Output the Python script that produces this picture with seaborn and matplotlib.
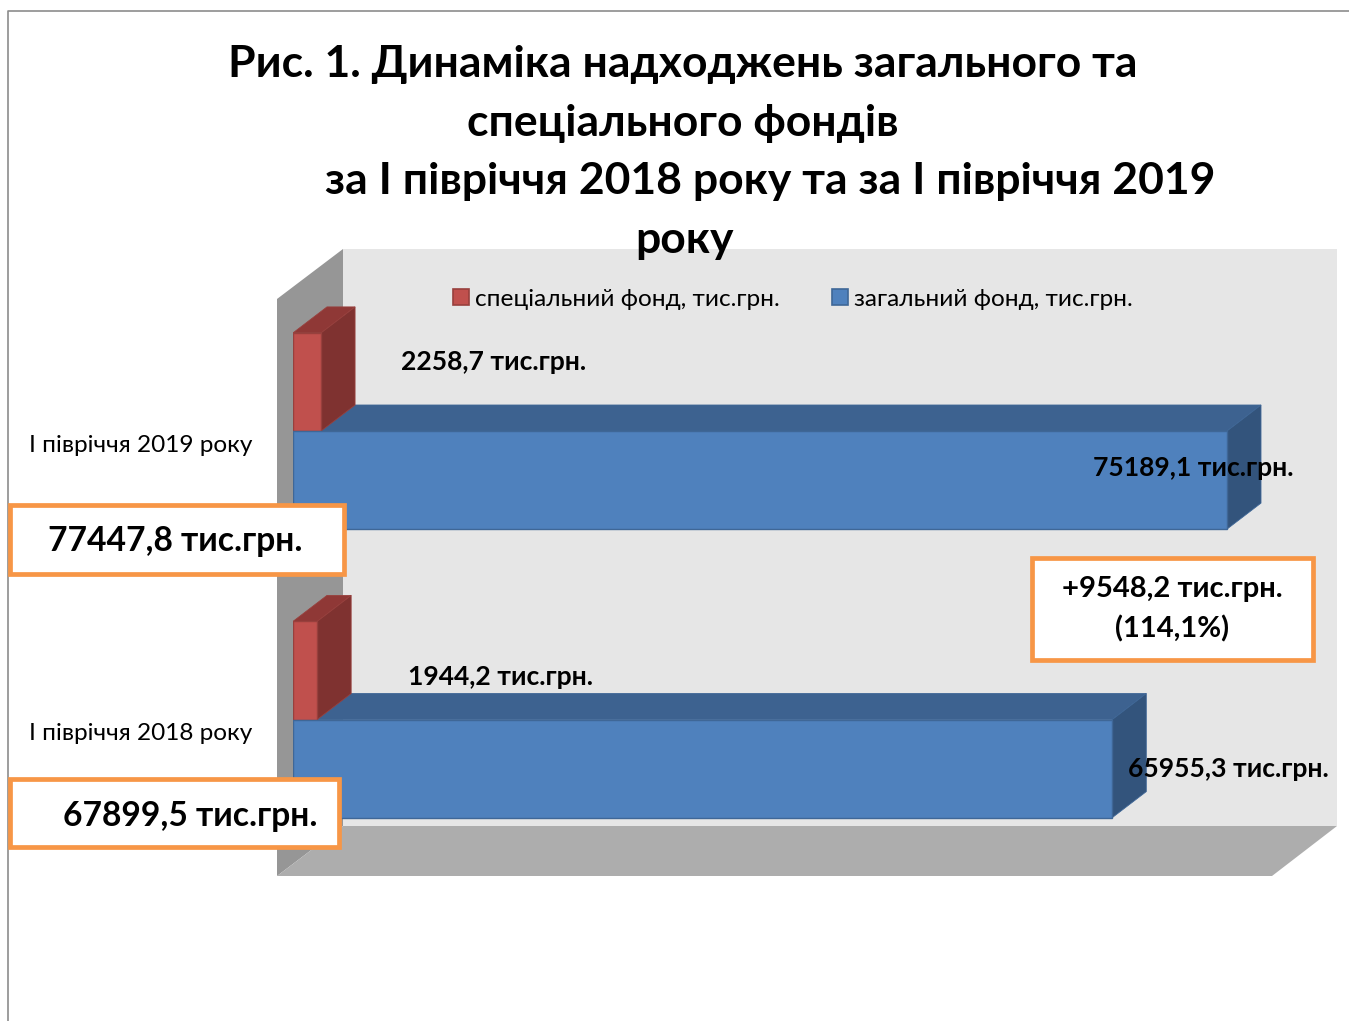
import matplotlib
matplotlib.use("Agg")
import matplotlib.pyplot as plt
from matplotlib.patches import Polygon, Rectangle
from matplotlib.transforms import ScaledTranslation
import pandas as pd
import seaborn as sns

periods = ["I півріччя 2019 року", "I півріччя 2018 року"]
special_fund = [2258.7, 1944.2]
general_fund = [75189.1, 65955.3]
series_names = ["спеціальний фонд, тис.грн.", "загальний фонд, тис.грн."]
totals = ["77447,8 тис.грн.", "67899,5 тис.грн."]
diff_text = "+9548,2 тис.грн.\n(114,1%)"
title_lines = [
    "Рис. 1. Динаміка надходжень загального та",
    "спеціального фондів",
    "за I півріччя 2018 року та за I півріччя 2019",
    "року",
]

W, H = 1349, 1021
FONT = ["Lato", "Open Sans", "DejaVu Sans"]

sns.set_theme(style="white")
plt.rcParams["font.family"] = FONT


def fx(x):
    return x / W


def fy(y):
    return 1 - y / H


def poly(pts, color, z=-1, edge="none"):
    # shape given in image pixels, used for the chart walls
    fig.add_artist(Polygon([(fx(x), fy(y)) for x, y in pts], closed=True, facecolor=color,
                           edgecolor=edge, lw=0, transform=fig.transFigure, zorder=z))


def box(x0, y0, x1, y1):
    fig.add_artist(Rectangle((fx(x0), fy(y1)), (x1 - x0) / W, (y1 - y0) / H, facecolor="white",
                             edgecolor="#f79646", lw=3.4, transform=fig.transFigure, zorder=5))


def label(x, y, s, size, weight="bold", ha="left", z=6, spacing=1.3):
    fig.text(fx(x), fy(y), s, fontsize=size, fontweight=weight, ha=ha, va="center",
             color="black", zorder=z, linespacing=spacing)


fig = plt.figure(figsize=(W / 100, H / 100), dpi=100)

# frame of the picture
fig.add_artist(plt.Line2D([fx(8), fx(8), 1], [0, fy(11), fy(11)], color="#8c8c8c", lw=1.2,
                          transform=fig.transFigure, zorder=2))

# walls and floor
poly([(343, 249), (1337, 249), (1337, 826), (343, 826)], "#e6e6e6")
poly([(277, 299), (343, 249), (343, 826), (277, 876)], "#969696")
poly([(277, 876), (343, 826), (1337, 826), (1272, 876)], "#adadad")

# axes run from zero on the x scale, y limits chosen so the bars land on the wall
ax = fig.add_axes([fx(293), fy(876), fx(W - 293), (876 - 249) / H])
ax.patch.set_visible(False)

df = pd.DataFrame({
    "period": periods * 2,
    "fund": [series_names[0]] * 2 + [series_names[1]] * 2,
    "value": special_fund + general_fund,
})
sns.barplot(data=df, y="period", x="value", hue="fund", hue_order=series_names, orient="h",
            palette=["#c0504d", "#4f81bd"], saturation=1, width=0.68, errorbar=None, ax=ax,
            linewidth=1)

px_per_value = 934 / general_fund[0]
px_per_cat = 288.5
ax.set_xlim(0, (W - 293) / px_per_value)
ax.set_ylim((876 - 431) / px_per_cat, (249 - 431) / px_per_cat)

depth_x = 34 / px_per_value
depth_y = -26 / px_per_cat
shades = [("#8f3836", "#7f3230", "#98403d", 0.9), ("#3d6290", "#33547c", "#3f6797", 0.8)]
for cont, (top_c, side_c, edge_c, z) in zip(ax.containers, shades):
    for bar in cont:
        bar.set_edgecolor(edge_c)
        x1 = bar.get_width()
        y0 = bar.get_y()
        y1 = y0 + bar.get_height()
        ax.add_patch(Polygon([(0, y0), (depth_x, y0 + depth_y), (x1 + depth_x, y0 + depth_y), (x1, y0)],
                             facecolor=top_c, edgecolor=edge_c, lw=0.6, zorder=z))
        ax.add_patch(Polygon([(x1, y0), (x1 + depth_x, y0 + depth_y), (x1 + depth_x, y1 + depth_y), (x1, y1)],
                             facecolor=side_c, edgecolor=edge_c, lw=0.6, zorder=z))

sns.despine(ax=ax, left=True, bottom=True)
ax.set_xlabel("")
ax.set_ylabel("")
ax.set_xticks([])
ax.tick_params(axis="y", length=0, pad=29, labelsize=17.6, labelcolor="black")
shift = ScaledTranslation(0, -12 / 100, fig.dpi_scale_trans)
for t in ax.get_yticklabels():
    t.set_transform(t.get_transform() + shift)

handles, labels = ax.get_legend_handles_labels()
leg = ax.legend(handles, labels, ncol=2, frameon=False, fontsize=17.6, loc="center",
                bbox_to_anchor=(fx(793), fy(299)), bbox_transform=fig.transFigure,
                handlelength=0.65, handleheight=0.65, handletextpad=0.25, columnspacing=2.13,
                labelcolor="black")
for h, c in zip(leg.legend_handles, ["#98403d", "#3f6797"]):
    h.set_edgecolor(c)
    h.set_linewidth(1.2)

# value labels
value_pos = [(401, 362), (408, 677)]
for v, (x, y) in zip(special_fund, value_pos):
    label(x, y, f"{v:.1f} тис.грн.".replace(".", ",", 1), 19.1)
value_pos = [(1093, 468), (1128, 769)]
for v, (x, y) in zip(general_fund, value_pos):
    label(x, y, f"{v:.1f} тис.грн.".replace(".", ",", 1), 19.1)

# callouts
box(10, 505, 344, 574)
label(48, 541, totals[0], 24.2)
box(10, 779, 339, 847)
label(63, 816, totals[1], 24.2)
box(1032, 558, 1313, 660)
label(1172, 609, diff_text, 21, ha="center", spacing=1.58)

# title, one text per line because the lines are offset differently
title_x = [683, 683, 770, 684]
title_y = [64, 123, 181, 240]
for x, y, s in zip(title_x, title_y, title_lines):
    label(x, y, s, 32, ha="center")

fig.savefig("out.png", dpi=100)
